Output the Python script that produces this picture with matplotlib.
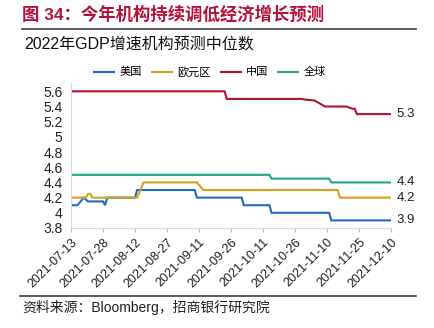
import matplotlib
matplotlib.use("Agg")
import matplotlib.pyplot as plt
import pandas as pd

plt.rcParams['font.family'] = ['Liberation Sans', 'Noto Sans CJK SC', 'DejaVu Sans']

# ---- data (breakpoints of step series) ----
us_dates = ["2021-07-13", "2021-07-16", "2021-07-19", "2021-07-21", "2021-07-28", "2021-07-29",
            "2021-07-30", "2021-08-12", "2021-08-13", "2021-09-09", "2021-09-10", "2021-10-01",
            "2021-10-02", "2021-10-14", "2021-10-15", "2021-11-11", "2021-11-12", "2021-12-10"]
us_vals = [4.1, 4.1, 4.2, 4.15, 4.15, 4.1, 4.2, 4.2, 4.3, 4.3, 4.2, 4.2, 4.1, 4.1, 4.0, 4.0, 3.9, 3.9]

eu_dates = ["2021-07-13", "2021-07-20", "2021-07-21", "2021-07-22", "2021-07-23", "2021-08-13",
            "2021-08-16", "2021-09-10", "2021-09-13", "2021-11-15", "2021-11-16", "2021-12-10"]
eu_vals = [4.2, 4.2, 4.25, 4.25, 4.2, 4.2, 4.4, 4.4, 4.3, 4.3, 4.2, 4.2]

cn_dates = ["2021-07-13", "2021-09-23", "2021-09-24", "2021-10-29", "2021-10-31", "2021-11-04",
            "2021-11-06", "2021-11-09", "2021-11-19", "2021-11-22", "2021-11-23", "2021-11-24",
            "2021-12-10"]
cn_vals = [5.6, 5.6, 5.5, 5.5, 5.49, 5.48, 5.45, 5.4, 5.4, 5.37, 5.37, 5.3, 5.3]

gl_dates = ["2021-07-13", "2021-10-14", "2021-10-15", "2021-11-11", "2021-11-12", "2021-12-10"]
gl_vals = [4.5, 4.5, 4.45, 4.45, 4.4, 4.4]

series_names = ["美国", "欧元区", "中国", "全球"]
end_labels = ["3.9", "4.2", "5.3", "4.4"]
tick_dates = ["2021-07-13", "2021-07-28", "2021-08-12", "2021-08-27", "2021-09-11", "2021-09-26",
              "2021-10-11", "2021-10-26", "2021-11-10", "2021-11-25", "2021-12-10"]
y_ticks = [3.8, 4, 4.2, 4.4, 4.6, 4.8, 5, 5.2, 5.4, 5.6]

colors = ["#1F6BC1", "#D4A21C", "#B0172F", "#1BA88A"]

fig = plt.figure(figsize=(4.34, 3.28), dpi=100)
ax = fig.add_axes([0.1636, 0.3049, 0.901 - 0.1636, 0.747 - 0.3049])

all_series = [(us_dates, us_vals), (eu_dates, eu_vals), (cn_dates, cn_vals), (gl_dates, gl_vals)]
for (d, v), name, c, lab in zip(all_series, series_names, colors, end_labels):
    dd = pd.to_datetime(d)
    ax.plot(dd, v, color=c, lw=1.5, label=name, solid_joinstyle='miter')
    ax.annotate(lab, xy=(dd[-1], v[-1]), xytext=(4, 0), textcoords='offset points',
                va='center', ha='left', fontsize=9.5, color='#222222')

ax.set_xlim(pd.Timestamp("2021-07-13"), pd.Timestamp("2021-12-10"))
ax.set_ylim(3.8, 5.71)
ax.set_yticks(y_ticks)
ax.set_yticklabels([("%g" % t) for t in y_ticks], fontsize=10, color='#222222')
xt = pd.to_datetime(tick_dates)
ax.set_xticks(xt)
ax.set_xticklabels(tick_dates, rotation=45, ha='right', rotation_mode='anchor', fontsize=9, color='#222222')
ax.tick_params(axis='y', length=0, pad=6)
ax.tick_params(axis='x', length=3, color='#BFBFBF', pad=3)
for s in ['top', 'right']:
    ax.spines[s].set_visible(False)
ax.spines['left'].set_color('#D9D9D9')
ax.spines['bottom'].set_color('#D9D9D9')

fig.legend(loc='center', bbox_to_anchor=(0.484, 1 - 72 / 328), ncol=4, frameon=False,
           fontsize=8, handlelength=1.8, columnspacing=0.9, handletextpad=0.5)

fig.text(22 / 434, 1 - 14 / 328, "图 34：今年机构持续调低经济增长预测", color='#B5123A',
         fontsize=12.5, fontweight='bold', va='center', ha='left')
fig.add_artist(plt.Line2D([22 / 434, 416 / 434], [1 - 29 / 328, 1 - 29 / 328], color='#404040', lw=1.2))
fig.text(24 / 434, 1 - 44 / 328, "2022年GDP增速机构预测中位数", color='#111111',
         fontsize=11.5, va='center', ha='left')
fig.add_artist(plt.Line2D([20 / 434, 416 / 434], [1 - 296 / 328, 1 - 296 / 328], color='#404040', lw=1.2))
fig.text(22 / 434, 1 - 307 / 328, "资料来源：Bloomberg，招商银行研究院", color='#222222',
         fontsize=10, va='center', ha='left')

fig.savefig("out.png", dpi=100)
